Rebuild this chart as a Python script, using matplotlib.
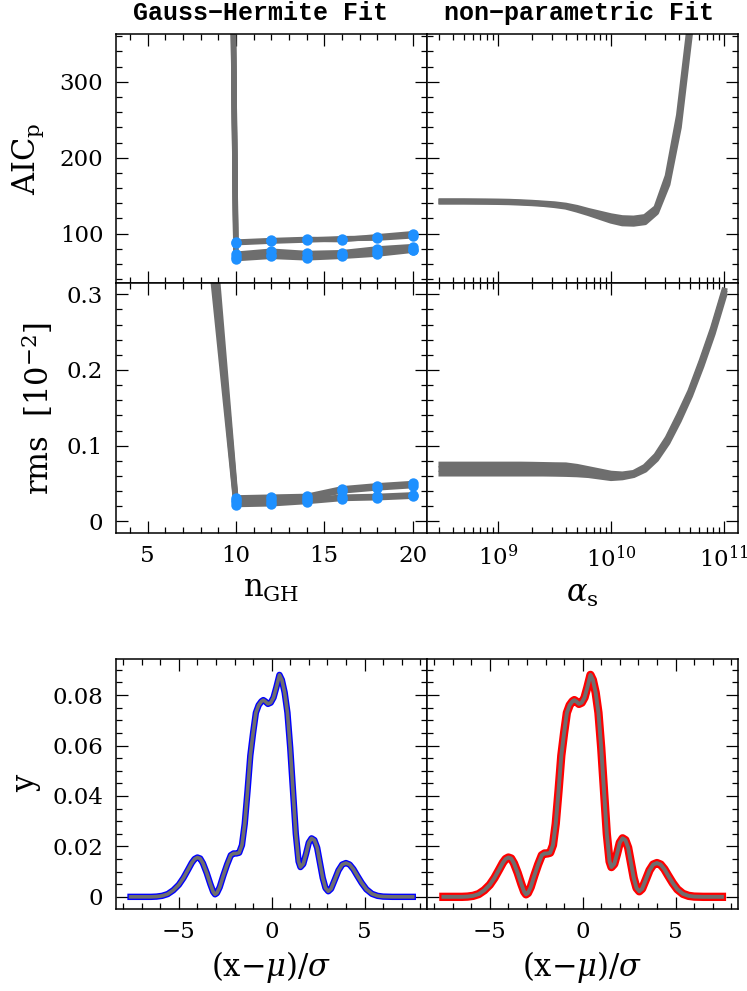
import numpy as np
import matplotlib
matplotlib.use("Agg")
import matplotlib.pyplot as plt
from matplotlib.ticker import MultipleLocator, FuncFormatter, LogLocator, NullFormatter

plt.rcParams['font.family'] = ['DejaVu Serif']
plt.rcParams['mathtext.fontset'] = 'dejavuserif'
plt.rcParams['axes.unicode_minus'] = True

# ---------------- data ----------------
gh_n = [8, 10, 12, 14, 16, 18, 20]
aic_gh_runs = [
    [4300, 89, 91, 92.5, 92, 96, 100],
    [4250, 88, 90, 91.5, 93.5, 94, 97],
    [4200, 73, 77, 74, 75, 80, 83],
    [4150, 69, 72, 69, 72, 76, 79],
    [4100, 67, 70, 68, 70, 73, 78],
]
rms_gh_runs = [
    [0.59, 0.031, 0.032, 0.033, 0.043, 0.047, 0.050],
    [0.55, 0.028, 0.030, 0.031, 0.040, 0.044, 0.047],
    [0.51, 0.025, 0.026, 0.028, 0.032, 0.033, 0.035],
    [0.48, 0.022, 0.023, 0.026, 0.030, 0.031, 0.033],
]

alpha_log = [8.5, 8.6, 8.7, 8.8, 8.9, 9.0, 9.1, 9.2, 9.3, 9.4, 9.5, 9.6, 9.7,
             9.8, 9.9, 10.0, 10.1, 10.2, 10.3, 10.4, 10.5, 10.6, 10.7, 10.8, 10.9, 11.0]
aic_np_runs = [
    [142.8, 142.8, 142.8, 142.7, 142.6, 142.4, 142.1, 141.5, 140.8, 139.8, 138.8, 137.0, 134.0,
     130.0, 126.5, 123.0, 120.5, 120.0, 122.0, 134.0, 176.0, 256.0, 381.0, 560.0, 800.0, 1100.0],
    [142.0, 142.0, 142.0, 141.9, 141.8, 141.6, 141.3, 140.7, 140.0, 139.0, 137.5, 135.5, 131.5,
     127.0, 122.0, 117.0, 113.5, 113.0, 115.0, 128.0, 165.0, 240.0, 365.0, 540.0, 780.0, 1080.0],
]
rms_np_runs = [
    [0.075, 0.075, 0.075, 0.075, 0.075, 0.075, 0.075, 0.075, 0.0748, 0.0745, 0.0742, 0.074, 0.072,
     0.069, 0.066, 0.063, 0.062, 0.064, 0.072, 0.087, 0.110, 0.140, 0.172, 0.212, 0.255, 0.305],
    [0.069, 0.069, 0.069, 0.069, 0.069, 0.069, 0.069, 0.069, 0.0688, 0.0685, 0.0682, 0.068, 0.067,
     0.065, 0.062, 0.060, 0.060, 0.062, 0.070, 0.085, 0.107, 0.137, 0.169, 0.209, 0.252, 0.302],
    [0.063, 0.063, 0.063, 0.063, 0.063, 0.063, 0.063, 0.063, 0.063, 0.063, 0.0628, 0.0625, 0.062,
     0.061, 0.059, 0.057, 0.058, 0.061, 0.068, 0.082, 0.104, 0.133, 0.166, 0.205, 0.248, 0.298],
]

prof_x = [-7.6, -7.0, -6.5, -6.2, -5.9, -5.6, -5.3, -5.0, -4.75, -4.5, -4.3, -4.15, -4.0,
          -3.85, -3.7, -3.5, -3.3, -3.15, -3.05, -2.95, -2.8, -2.6, -2.4, -2.2, -2.05, -1.9,
          -1.75, -1.6, -1.45, -1.3, -1.15, -1.0, -0.85, -0.7, -0.55, -0.45, -0.35, -0.2,
          -0.05, 0.1, 0.25, 0.42, 0.55, 0.7, 0.85, 1.0, 1.15, 1.3, 1.45, 1.55, 1.7, 1.85,
          2.0, 2.15, 2.3, 2.45, 2.6, 2.75, 2.9, 3.05, 3.2, 3.4, 3.6, 3.8, 4.0, 4.2, 4.4,
          4.6, 4.85, 5.1, 5.4, 5.7, 6.0, 6.5, 7.0, 7.6]
prof_y = [0, 0, 0, 0.0001, 0.0004, 0.0011, 0.0026, 0.0048, 0.0075, 0.0108, 0.0135, 0.0150, 0.0156,
          0.0152, 0.0133, 0.0095, 0.0050, 0.0020, 0.0010, 0.0015, 0.0038, 0.0085, 0.0128, 0.0165, 0.0172, 0.0172,
          0.0175, 0.0205, 0.0290, 0.0420, 0.0560, 0.0650, 0.0730, 0.0760, 0.0775, 0.0780, 0.0775, 0.0765,
          0.0770, 0.0790, 0.0830, 0.0880, 0.0860, 0.0810, 0.0730, 0.0590, 0.0420, 0.0250, 0.0140, 0.0118, 0.0130, 0.0170,
          0.0215, 0.0232, 0.0225, 0.0195, 0.0135, 0.0075, 0.0035, 0.0022, 0.0032, 0.0068, 0.0105, 0.0128, 0.0134, 0.0128, 0.0110,
          0.0085, 0.0055, 0.0030, 0.0012, 0.0004, 0.0001, 0, 0, 0]

# ---------------- style ----------------
GRAY = '#6e6e6e'
BLUE = '#1e90ff'
TICK_FS = 16.5
LABEL_FS = 22


def style(ax):
    ax.tick_params(which='both', direction='in', top=True, right=True, width=0.9,
                   labelsize=TICK_FS, pad=9)
    ax.tick_params(which='major', length=8.5)
    ax.tick_params(which='minor', length=4.5)
    for s in ax.spines.values():
        s.set_linewidth(1.1)


def zero_fmt(v, pos):
    if abs(v) < 1e-12:
        return '0'
    return ('%g' % v).replace('-', '\u2212')


fig = plt.figure(figsize=(7.47, 9.91), dpi=100)
W = 311 / 747.0
L1 = 115.7 / 747.0
L2 = L1 + W
H = 250 / 991.0

ax1 = fig.add_axes([L1, 1 - 283 / 991.0, W, 249 / 991.0])
ax2 = fig.add_axes([L2, 1 - 283 / 991.0, W, 249 / 991.0])
ax3 = fig.add_axes([L1, 1 - 533 / 991.0, W, H])
ax4 = fig.add_axes([L2, 1 - 533 / 991.0, W, H])
ax5 = fig.add_axes([L1, 1 - 908.7 / 991.0, W, 249.7 / 991.0])
ax6 = fig.add_axes([L2, 1 - 908.7 / 991.0, W, 249.7 / 991.0])

# top-left: AIC vs n_GH
for run in aic_gh_runs:
    ax1.plot(gh_n, run, color=GRAY, lw=3.8, zorder=2)
for run in aic_gh_runs:
    ax1.plot(gh_n, run, ls='none', marker='o', ms=7.5, color=BLUE, mec='none', zorder=3)
ax1.set_xlim(3.2, 20.8)
ax1.set_ylim(35, 363)

# middle-left: rms vs n_GH
for run in rms_gh_runs:
    ax3.plot(gh_n, run, color=GRAY, lw=3.8, zorder=2)
for run in rms_gh_runs:
    ax3.plot(gh_n, run, ls='none', marker='o', ms=7.5, color=BLUE, mec='none', zorder=3)
ax3.set_xlim(3.2, 20.8)
ax3.set_ylim(-0.0155, 0.315)

alpha_s = [10 ** a for a in alpha_log]
for run in aic_np_runs:
    ax2.plot(alpha_s, run, color=GRAY, lw=4.2)
for run in rms_np_runs:
    ax4.plot(alpha_s, run, color=GRAY, lw=4.2)
for ax in (ax2, ax4):
    ax.set_xscale('log')
    ax.set_xlim(10 ** 8.37, 10 ** 11.12)
    ax.xaxis.set_major_locator(LogLocator(base=10, numticks=10))
    ax.xaxis.set_minor_locator(LogLocator(base=10, subs=np.arange(2, 10), numticks=20))
    ax.xaxis.set_minor_formatter(NullFormatter())
ax2.set_ylim(35, 363)
ax4.set_ylim(-0.0155, 0.315)

for ax in (ax1, ax3):
    ax.xaxis.set_major_locator(MultipleLocator(5))
    ax.xaxis.set_minor_locator(MultipleLocator(1))
for ax in (ax1, ax2):
    ax.yaxis.set_major_locator(MultipleLocator(100))
    ax.yaxis.set_minor_locator(MultipleLocator(20))
for ax in (ax3, ax4):
    ax.yaxis.set_major_locator(MultipleLocator(0.1))
    ax.yaxis.set_minor_locator(MultipleLocator(0.02))
    ax.yaxis.set_major_formatter(FuncFormatter(zero_fmt))

# bottom profiles
ax5.plot(prof_x, prof_y, color='#0000ff', lw=4.6, solid_joinstyle='round', zorder=2)
ax5.plot(prof_x, prof_y, color=GRAY, lw=2.6, solid_joinstyle='round', zorder=3)
red_x = [max(min(v, 7.5), -7.5) for v in prof_x]
ax6.plot(red_x, prof_y, color='#ff0000', lw=6.0, solid_joinstyle='round', zorder=2)
ax6.plot(red_x, prof_y, color=GRAY, lw=2.8, solid_joinstyle='round', zorder=3)
for ax in (ax5, ax6):
    ax.set_xlim(-8.4, 8.35)
    ax.set_ylim(-0.0047, 0.0943)
    ax.xaxis.set_major_locator(MultipleLocator(5))
    ax.xaxis.set_minor_locator(MultipleLocator(1))
    ax.yaxis.set_major_locator(MultipleLocator(0.02))
    ax.yaxis.set_minor_locator(MultipleLocator(0.005))
    ax.xaxis.set_major_formatter(FuncFormatter(zero_fmt))
    ax.yaxis.set_major_formatter(FuncFormatter(zero_fmt))
    ax.set_xlabel(r'(x$-\mu$)/$\sigma$', fontsize=LABEL_FS, labelpad=4)

for ax in (ax1, ax2, ax3, ax4, ax5, ax6):
    style(ax)

for ax in (ax1, ax2):
    ax.tick_params(labelbottom=False)
for ax in (ax2, ax4, ax6):
    ax.tick_params(labelleft=False)

ax1.set_ylabel(r'AIC$_{\rm p}$', fontsize=LABEL_FS, labelpad=10)
ax3.set_ylabel(r'rms  [10$^{-2}$]', fontsize=LABEL_FS, labelpad=8)
ax5.set_ylabel('y', fontsize=LABEL_FS, labelpad=8)
ax3.set_xlabel(r'n$_{\rm GH}$', fontsize=LABEL_FS, labelpad=4)
ax4.set_xlabel(r'$\alpha_{\rm s}$', fontsize=LABEL_FS, labelpad=4)

title_font = dict(family='Liberation Mono', weight='bold', size=18)
ax1.set_title('Gauss\u2212Hermite Fit', fontdict=title_font, pad=10, x=0.465)
ax2.set_title('non\u2212parametric Fit', fontdict=title_font, pad=10, x=0.49)

fig.savefig('out.png', dpi=100)
